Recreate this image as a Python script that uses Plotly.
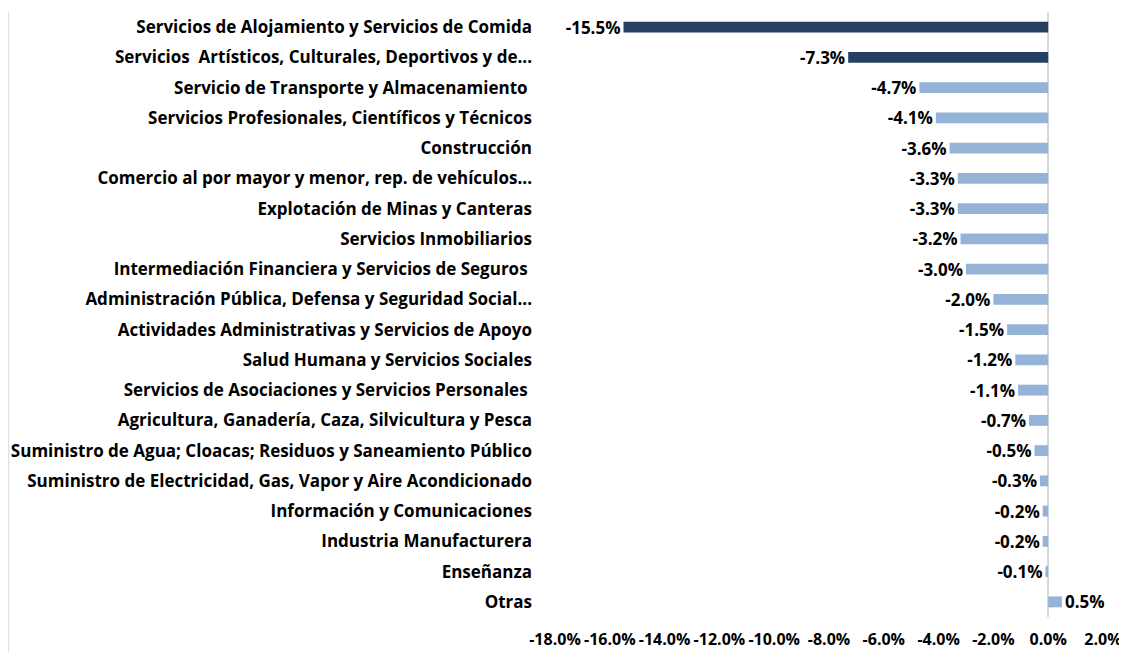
import plotly.graph_objects as go

sectores = [
    "Servicios de Alojamiento y Servicios de Comida",
    "Servicios  Artísticos, Culturales, Deportivos y de...",
    "Servicio de Transporte y Almacenamiento ",
    "Servicios Profesionales, Científicos y Técnicos",
    "Construcción",
    "Comercio al por mayor y menor, rep. de vehículos...",
    "Explotación de Minas y Canteras",
    "Servicios Inmobiliarios",
    "Intermediación Financiera y Servicios de Seguros ",
    "Administración Pública, Defensa y Seguridad Social...",
    "Actividades Administrativas y Servicios de Apoyo",
    "Salud Humana y Servicios Sociales",
    "Servicios de Asociaciones y Servicios Personales ",
    "Agricultura, Ganadería, Caza, Silvicultura y Pesca",
    "Suministro de Agua; Cloacas; Residuos y Saneamiento Público",
    "Suministro de Electricidad, Gas, Vapor y Aire Acondicionado",
    "Información y Comunicaciones",
    "Industria Manufacturera",
    "Enseñanza",
    "Otras",
]
variacion = [-15.5, -7.3, -4.7, -4.1, -3.6, -3.3, -3.3, -3.2, -3.0, -2.0,
             -1.5, -1.2, -1.1, -0.7, -0.5, -0.3, -0.2, -0.2, -0.1, 0.5]
destacados = 2  # first two sectors drawn in dark blue

tick_vals = [-18, -16, -14, -12, -10, -8, -6, -4, -2, 0, 2]
tick_text = [f"{v:.1f}%" for v in tick_vals]

colores = ["#243F60" if i < destacados else "#95B3D7" for i in range(len(sectores))]

FUENTE = "Open Sans"
TAM = 17

fig = go.Figure(go.Bar(
    x=variacion,
    y=sectores,
    orientation="h",
    marker=dict(color=colores, line=dict(width=0)),
    text=[f"{v:.1f}%" for v in variacion],
    textposition="outside",
    constraintext="none",
    cliponaxis=False,
    textfont=dict(family=FUENTE, size=TAM, color="#000000", weight="bold"),
    width=0.36,
))

# the page body adds ~8px offset, margins are compensated for it
fig.update_layout(
    width=1127, height=652,
    margin=dict(l=547, r=32, t=4, b=43, autoexpand=False),
    paper_bgcolor="white", plot_bgcolor="white",
    font=dict(family=FUENTE, size=TAM, color="#000000", weight="bold"),
    showlegend=False,
    shapes=[dict(type="line", xref="paper", yref="paper",
                 x0=-0.997, x1=-0.997, y0=-0.1, y1=1.0,
                 line=dict(color="#D9D9D9", width=1))],
)
fig.update_xaxes(
    range=[-18, 2], tickvals=tick_vals, ticktext=tick_text,
    showgrid=False, zeroline=True, zerolinecolor="#D9D9D9", zerolinewidth=2,
    showline=False, ticks="", tickangle=0, automargin=False,
    ticklabelstandoff=11,
    tickfont=dict(family=FUENTE, size=16, weight="bold"),
)
fig.update_yaxes(
    autorange="reversed", showgrid=False, showline=False, ticks="",
    ticklabelstandoff=22, automargin=False,
    tickfont=dict(family=FUENTE, size=TAM, weight="bold"),
)

fig.write_html("out.html")
